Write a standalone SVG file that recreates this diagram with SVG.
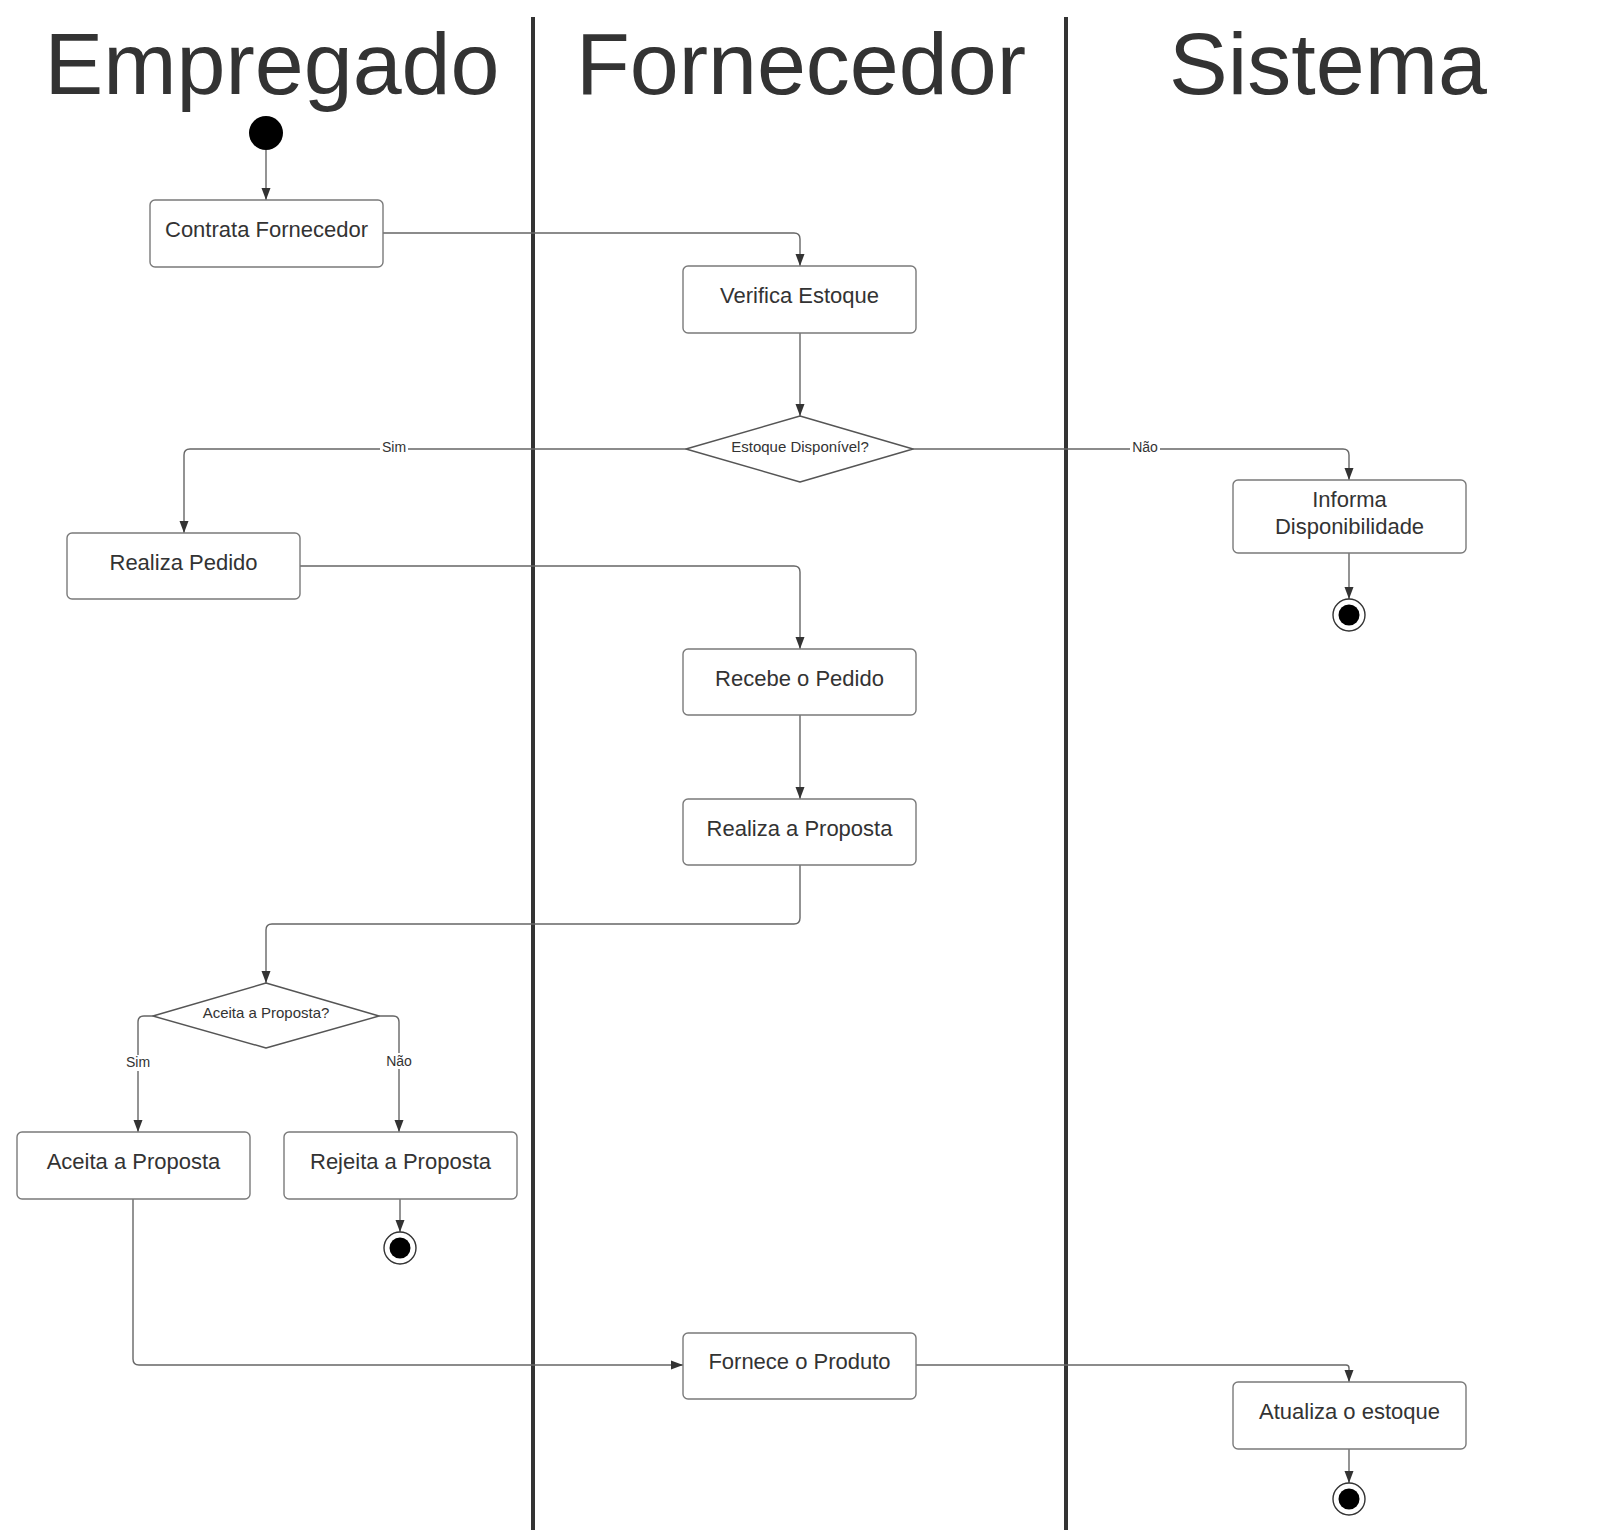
<svg xmlns="http://www.w3.org/2000/svg" width="1600" height="1530" viewBox="0 0 1600 1530">
<defs>
<style>
.title{font-family:"Liberation Sans",Arial,sans-serif;font-size:88px;fill:#333;text-anchor:middle}
.box{fill:#fff;stroke:#7a7a7a;stroke-width:1.4}
.dia{fill:#fff;stroke:#555;stroke-width:1.4;stroke-linejoin:round}
.t{font-family:"Liberation Sans",Arial,sans-serif;font-size:22px;fill:#333;text-anchor:middle}
.dt{font-family:"Liberation Sans",Arial,sans-serif;font-size:15px;fill:#333;text-anchor:middle}
.lbl{font-family:"Liberation Sans",Arial,sans-serif;font-size:14px;fill:#333;text-anchor:middle}
.conn{fill:none;stroke:#666;stroke-width:1.4;marker-end:url(#arr)}
.lane{stroke:#333;stroke-width:4}
</style>
<marker id="arr" markerUnits="userSpaceOnUse" markerWidth="12" markerHeight="10" refX="12" refY="5" orient="auto">
<path d="M0,0.5 L12,5 L0,9.5 z" fill="#333"/>
</marker>
</defs>
<rect width="1600" height="1530" fill="#fff"/>

<g id="lanes">
<line class="lane" x1="533" y1="17" x2="533" y2="1530"/>
<line class="lane" x1="1066" y1="17" x2="1066" y2="1530"/>
<text class="title" x="272" y="94">Empregado</text>
<text class="title" x="801" y="94">Fornecedor</text>
<text class="title" x="1328" y="94">Sistema</text>
</g>

<g id="connectors">
<path class="conn" d="M266,150 V200"/>
<path class="conn" d="M383,233 H794 Q800,233 800,239 V266"/>
<path class="conn" d="M800,333 V416"/>
<path class="conn" d="M686,449 H190 Q184,449 184,455 V533"/>
<path class="conn" d="M913,449 H1343 Q1349,449 1349,455 V480"/>
<path class="conn" d="M1349,553 V599"/>
<path class="conn" d="M300,566 H794 Q800,566 800,572 V649"/>
<path class="conn" d="M800,715 V799"/>
<path class="conn" d="M800,865 V918 Q800,924 794,924 H272 Q266,924 266,930 V983"/>
<path class="conn" d="M153,1016 H144 Q138,1016 138,1022 V1132"/>
<path class="conn" d="M379,1016 H393 Q399,1016 399,1022 V1132"/>
<path class="conn" d="M400,1199 V1232"/>
<path class="conn" d="M133,1199 V1359 Q133,1365 139,1365 H683"/>
<path class="conn" d="M916,1365 H1346 Q1349,1365 1349,1368 V1382"/>
<path class="conn" d="M1349,1449 V1483"/>
<g id="labels">
<rect x="380" y="441" width="28" height="16" fill="#fff"/>
<text class="lbl" x="394" y="452">Sim</text>
<rect x="1130" y="441" width="30" height="16" fill="#fff"/>
<text class="lbl" x="1145" y="452">Não</text>
<rect x="124" y="1055" width="28" height="16" fill="#fff"/>
<text class="lbl" x="138" y="1067">Sim</text>
<rect x="384" y="1053" width="30" height="16" fill="#fff"/>
<text class="lbl" x="399" y="1066">Não</text>
</g>
</g>

<g id="start"><circle cx="266" cy="133" r="17" fill="#000"/></g>

<g id="contrata"><rect class="box" x="150" y="200" width="233" height="67" rx="5"/><text class="t" x="266.5" y="237">Contrata Fornecedor</text></g>
<g id="verifica"><rect class="box" x="683" y="266" width="233" height="67" rx="5"/><text class="t" x="799.5" y="303">Verifica Estoque</text></g>
<g id="estoque-disponivel"><polygon class="dia" points="800,416 913,449 800,482 686,449"/><text class="dt" x="800" y="452">Estoque Disponível?</text></g>
<g id="informa"><rect class="box" x="1233" y="480" width="233" height="73" rx="5"/><text class="t" x="1349.5" y="507">Informa</text><text class="t" x="1349.5" y="534">Disponibilidade</text></g>
<g id="end1"><circle cx="1349" cy="615" r="16" fill="#fff" stroke="#333" stroke-width="1.4"/><circle cx="1349" cy="615" r="10.5" fill="#000"/></g>
<g id="realiza-pedido"><rect class="box" x="67" y="533" width="233" height="66" rx="5"/><text class="t" x="183.5" y="569.5">Realiza Pedido</text></g>
<g id="recebe"><rect class="box" x="683" y="649" width="233" height="66" rx="5"/><text class="t" x="799.5" y="685.5">Recebe o Pedido</text></g>
<g id="realiza-proposta"><rect class="box" x="683" y="799" width="233" height="66" rx="5"/><text class="t" x="799.5" y="835.5">Realiza a Proposta</text></g>
<g id="aceita-decisao"><polygon class="dia" points="266,983 379,1016 266,1048 153,1016"/><text class="dt" x="266" y="1018">Aceita a Proposta?</text></g>
<g id="aceita"><rect class="box" x="17" y="1132" width="233" height="67" rx="5"/><text class="t" x="133.5" y="1169">Aceita a Proposta</text></g>
<g id="rejeita"><rect class="box" x="284" y="1132" width="233" height="67" rx="5"/><text class="t" x="400.5" y="1169">Rejeita a Proposta</text></g>
<g id="end2"><circle cx="400" cy="1248" r="16" fill="#fff" stroke="#333" stroke-width="1.4"/><circle cx="400" cy="1248" r="10.5" fill="#000"/></g>
<g id="fornece"><rect class="box" x="683" y="1333" width="233" height="66" rx="5"/><text class="t" x="799.5" y="1369">Fornece o Produto</text></g>
<g id="atualiza"><rect class="box" x="1233" y="1382" width="233" height="67" rx="5"/><text class="t" x="1349.5" y="1419">Atualiza o estoque</text></g>
<g id="end3"><circle cx="1349" cy="1499" r="16" fill="#fff" stroke="#333" stroke-width="1.4"/><circle cx="1349" cy="1499" r="10.5" fill="#000"/></g>
</svg>
